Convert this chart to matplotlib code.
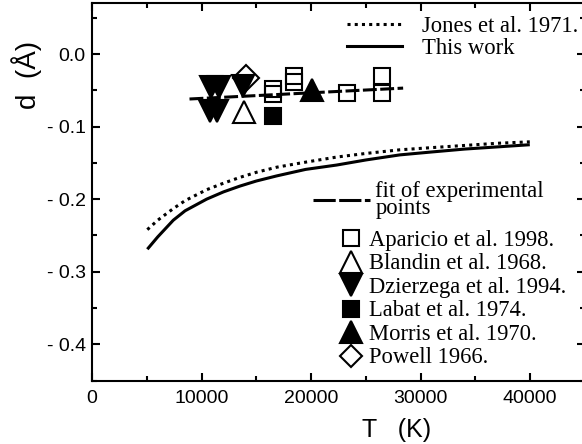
import matplotlib
matplotlib.use('Agg')
import matplotlib.pyplot as plt
from matplotlib.lines import Line2D
from matplotlib.ticker import MultipleLocator, FixedLocator

# ---------------- data ----------------
T_curve = [5050, 6000, 7420, 8500, 10460, 12000, 13500, 15000, 16850, 19500,
           22330, 25000, 28100, 31000, 34000, 37000, 39960]
d_this_work = [-0.269, -0.252, -0.229, -0.216, -0.200, -0.190, -0.182, -0.175, -0.168, -0.159,
               -0.153, -0.146, -0.139, -0.135, -0.131, -0.128, -0.125]
d_jones = [-0.242, -0.229, -0.213, -0.202, -0.187, -0.178, -0.170, -0.163, -0.156, -0.149,
           -0.142, -0.137, -0.132, -0.129, -0.126, -0.123, -0.121]

fit_T = [8900, 28400]
fit_d = [-0.062, -0.047]

aparicio_T = [16540, 16540, 18430, 18430, 23240, 26460, 26460]
aparicio_d = [-0.048, -0.055, -0.030, -0.039, -0.054, -0.030, -0.054]
blandin_T = [13870]
blandin_d = [-0.080]
dzierzega_T = [10860, 11590, 10750, 11400, 13780]
dzierzega_d = [-0.045, -0.045, -0.078, -0.078, -0.044]
labat_T = [16540]
labat_d = [-0.086]
morris_T = [20040]
morris_d = [-0.0496]
powell_T = [14100]
powell_d = [-0.033]

x_ticks = [0, 10000, 20000, 30000, 40000]
x_tick_labels = ['0', '10000', '20000', '30000', '40000']
y_ticks = [-0.4, -0.3, -0.2, -0.1, 0.0]
y_tick_labels = ['- 0.4', '- 0.3', '- 0.2', '- 0.1', '0.0']

# ---------------- figure ----------------
plt.rcParams['lines.scale_dashes'] = False
fig = plt.figure(figsize=(5.82, 4.44), dpi=100)
W, H = 582, 444
ax = fig.add_axes([92 / W, (H - 380.6) / H, 493 / W, 377.4 / H])

lw = 2.2
ax.plot(T_curve, d_jones, color='black', lw=lw, linestyle=(0, (2.2, 3.0)),
        dash_capstyle='butt')
ax.plot(T_curve, d_this_work, color='black', lw=lw, solid_capstyle='butt')
ax.plot(fit_T, fit_d, color='black', lw=lw, linestyle=(0, (10, 2.5)))

mew = 1.5
ax.plot(aparicio_T, aparicio_d, 's', ms=11.5, mfc='none', mec='black', mew=mew)
ax.plot(blandin_T, blandin_d, '^', ms=15.5, mfc='none', mec='black', mew=mew)
ax.plot(dzierzega_T, dzierzega_d, 'v', ms=15.5, mfc='black', mec='black', mew=mew)
ax.plot(labat_T, labat_d, 's', ms=11.5, mfc='black', mec='black', mew=mew)
ax.plot(morris_T, morris_d, '^', ms=16, mfc='black', mec='black', mew=mew)
ax.plot(powell_T, powell_d, 'D', ms=13, mfc='none', mec='black', mew=mew)

ax.set_xlim(0, 45000)
ax.set_ylim(-0.45, 0.07)

ax.xaxis.set_major_locator(FixedLocator(x_ticks))
ax.set_xticklabels(x_tick_labels)
ax.xaxis.set_minor_locator(MultipleLocator(5000))
ax.yaxis.set_major_locator(FixedLocator(y_ticks))
ax.set_yticklabels(y_tick_labels)
ax.yaxis.set_minor_locator(MultipleLocator(0.05))

ax.tick_params(which='both', direction='in', top=True, right=True, width=1.5,
               labelsize=14, colors='black')
ax.tick_params(which='major', length=6)
ax.tick_params(which='minor', length=3.5)
ax.tick_params(axis='x', pad=7)
ax.tick_params(axis='y', pad=4.5)
for lab in ax.get_xticklabels() + ax.get_yticklabels():
    lab.set_fontfamily('Liberation Sans')
for sp in ax.spines.values():
    sp.set_linewidth(1.5)

fig.text(397 / W, 1 - 430 / H, 'T   (K)', fontsize=18, family='Liberation Sans',
         ha='center', va='center')
fig.text(27 / W, 1 - 75 / H, 'd  (Å)', fontsize=20, family='Liberation Sans',
         ha='center', va='center', rotation=90)

# ---------------- legends ----------------
serif = {'family': 'Liberation Serif', 'size': 16.3}

h1 = [Line2D([], [], color='black', lw=lw, linestyle=(0, (2.2, 3.0))),
      Line2D([], [], color='black', lw=lw)]
leg1 = fig.legend(h1, ['Jones et al. 1971.', 'This work'], loc='upper left',
                  bbox_to_anchor=(347 / W, 1 - 16 / H), frameon=False,
                  prop=serif, handlelength=2.43, handletextpad=0.9,
                  labelspacing=0.06, borderpad=0, borderaxespad=0)

h2 = [Line2D([], [], color='black', lw=lw, linestyle=(0, (16, 2.5)))]
leg2 = fig.legend(h2, ['fit of experimental\npoints'], loc='center left',
                  bbox_to_anchor=(313 / W, 1 - 200 / H), frameon=False,
                  prop=serif, handlelength=2.5, handletextpad=0.25,
                  borderpad=0, borderaxespad=0)
for t in leg2.get_texts():
    t.set_linespacing(0.7)

h3 = [Line2D([], [], marker='s', ls='none', ms=11.5, mfc='none', mec='black', mew=mew),
      Line2D([], [], marker='^', ls='none', ms=15.5, mfc='none', mec='black', mew=mew),
      Line2D([], [], marker='v', ls='none', ms=15.5, mfc='black', mec='black', mew=mew),
      Line2D([], [], marker='s', ls='none', ms=11.5, mfc='black', mec='black', mew=mew),
      Line2D([], [], marker='^', ls='none', ms=15.5, mfc='black', mec='black', mew=mew),
      Line2D([], [], marker='D', ls='none', ms=11.5, mfc='none', mec='black', mew=mew)]
labels3 = ['Aparicio et al. 1998.', 'Blandin et al. 1968.', 'Dzierzega et al. 1994.',
           'Labat et al. 1974.', 'Morris et al. 1970.', 'Powell 1966.']
leg3 = fig.legend(h3, labels3, loc='upper left',
                  bbox_to_anchor=(340 / W, 1 - 230 / H), frameon=False,
                  prop=serif, handlelength=1.0, handletextpad=0.28,
                  labelspacing=0.11, borderpad=0, borderaxespad=0, numpoints=1)

fig.savefig('out.png', dpi=100)
